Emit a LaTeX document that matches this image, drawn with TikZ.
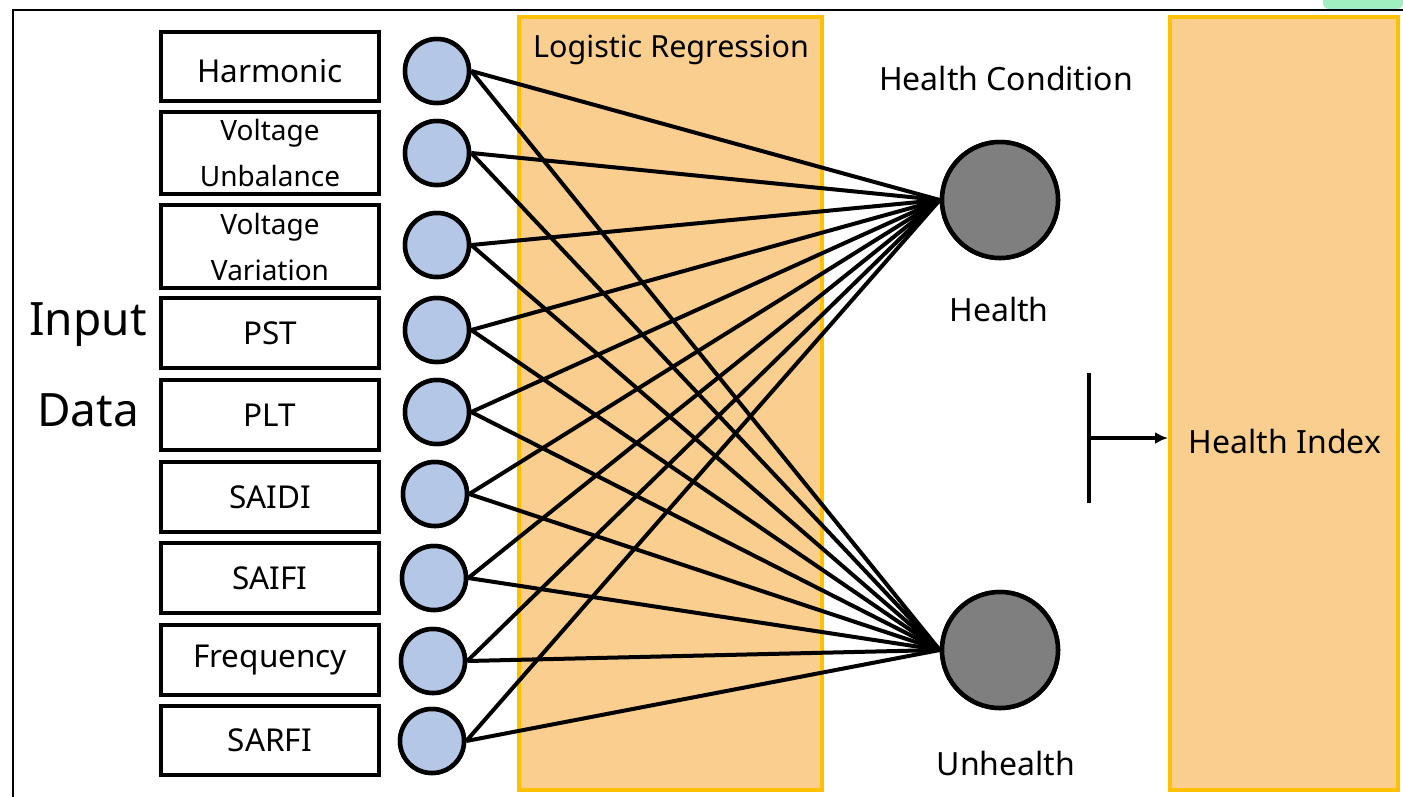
\documentclass[tikz,border=0pt]{standalone}
\usepackage{fontspec}
\setmainfont{Noto Sans}
\usetikzlibrary{arrows.meta}
\definecolor{inblue}{HTML}{B4C7E7}
\definecolor{outgray}{HTML}{7F7F7F}
\definecolor{panelfill}{HTML}{F9CE8E}
\definecolor{panelline}{HTML}{FFC000}
\definecolor{cornergreen}{HTML}{A0EFC0}
\tikzset{
  inbox/.style={draw=black, line width=4pt, fill=white, minimum width=218pt, inner sep=0pt, align=center, font=\fontsize{31.5}{36}\selectfont},
  inboxtwo/.style={inbox, font=\fontsize{28}{46}\selectfont},
  incircle/.style={circle, draw=black, line width=4.5pt, fill=inblue, minimum size=64pt, inner sep=0pt},
  outcircle/.style={circle, draw=black, line width=4.5pt, fill=outgray, minimum size=116pt, inner sep=0pt},
  panel/.style={draw=panelline, line width=4pt, fill=panelfill, inner sep=0pt},
  wire/.style={draw=black, line width=4pt},
  lbl/.style={font=\fontsize{32}{38}\selectfont, inner sep=0pt},
  lrlbl/.style={font=\fontsize{30.5}{36}\selectfont, inner sep=0pt},
  biglbl/.style={font=\fontsize{46}{55}\selectfont, inner sep=0pt}
}
\begin{document}
\begin{tikzpicture}[x=1pt, y=-1pt]
\useasboundingbox (0,0) rectangle (1403,796);
\fill[white] (0,0) rectangle (1403,796);
% corner patch and frame
\fill[cornergreen, rounded corners=6pt] (1323,-10) rectangle (1403,9);
\draw[black, line width=2.5pt] (13,800) -- (13,10) -- (1405,10);
% panels
\node[panel, minimum width=303pt, minimum height=773pt] (lr) at (670.5,403.5) {};
\node[panel, minimum width=228pt, minimum height=773pt] (hi) at (1284,403.5) {};
\node[lrlbl] (lrlabel) at (671,50) {Logistic Regression};
\node[lbl] (hilabel) at (1285,441) {Health Index};
% input boxes
\node[inbox, minimum height=69pt] (b1) at (270,66.5) {};
\node[inbox, draw=none, fill=none, minimum height=0pt] (t1) at (270,71) {Harmonic};
\node[inboxtwo, minimum height=82pt] (b2) at (270,153) {Voltage\\Unbalance};
\node[inboxtwo, minimum height=83pt] (b3) at (270,246.5) {Voltage\\Variation};
\node[inbox, minimum height=70pt] (b4) at (270,333) {PST};
\node[inbox, minimum height=70pt] (b5) at (270,415) {PLT};
\node[inbox, minimum height=70pt] (b6) at (270,497) {SAIDI};
\node[inbox, minimum height=70pt] (b7) at (270,578) {SAIFI};
\node[inbox, minimum height=70pt] (b8) at (270,660) {Frequency};
\node[inbox, minimum height=69pt] (b9) at (270,740.5) {SARFI};
\node[biglbl] (inp) at (88,325) {Input};
\node[biglbl] (dat) at (88,410) {Data};
% output circles
\node[outcircle] (h) at (1000,200) {};
\node[outcircle] (u) at (1000,650) {};
\node[lbl] (hc) at (1006,78) {Health Condition};
\node[lbl] (hl) at (999,309) {Health};
\node[lbl] (ul) at (1006,763) {Unhealth};
% input circles positions
\coordinate (p1) at (437,71);
\coordinate (p2) at (437,153);
\coordinate (p3) at (437,245);
\coordinate (p4) at (437,330);
\coordinate (p5) at (437,412);
\coordinate (p6) at (435,494);
\coordinate (p7) at (434,578);
\coordinate (p8) at (433,661);
\coordinate (p9) at (432,741);
\foreach \i in {1,...,9} {
  \node[incircle] (c\i) at (p\i) {};
}
\foreach \i in {1,...,9} {
  \draw[wire] (c\i.east) -- (h.west);
  \draw[wire] (c\i.east) -- (u.west);
}
\foreach \i in {1,...,9} {
  \node[incircle] at (p\i) {};
}
\node[outcircle] at (h) {};
\node[outcircle] at (u) {};
% arrow to health index
\coordinate (bt) at (1089,373);
\coordinate (bb) at (1089,503);
\coordinate (bm) at (1089,438);
\draw[black, line width=4pt] (bt) -- (bb);
\draw[black, line width=3.2pt, -{Latex[length=13pt,width=12pt]}] (bm) -- (hi.west |- bm);
\end{tikzpicture}
\end{document}
